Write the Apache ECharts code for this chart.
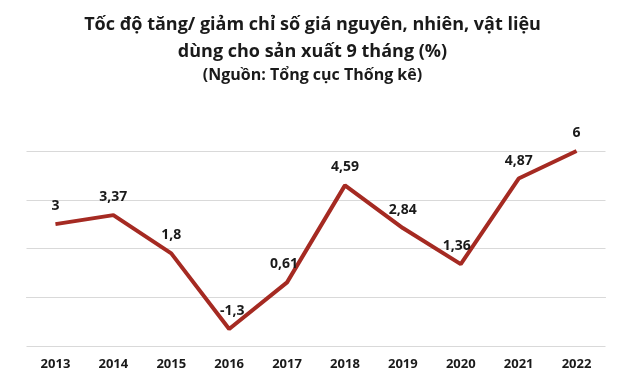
<!DOCTYPE html>
<html><head><meta charset="utf-8">
<script src="https://cdn.jsdelivr.net/npm/echarts@6/dist/echarts.min.js"></script>
<style>html,body{margin:0;padding:0;background:#fff}#c{width:625px;height:386px}</style>
</head><body><div id="c"></div>
<script>
const titleLines = ["Tốc độ tăng/ giảm chỉ số giá nguyên, nhiên, vật liệu", "dùng cho sản xuất 9 tháng (%)"];
const subtitle = "(Nguồn: Tổng cục Thống kê)";
const years = ["2013","2014","2015","2016","2017","2018","2019","2020","2021","2022"];
const values = [3, 3.37, 1.8, -1.3, 0.61, 4.59, 2.84, 1.36, 4.87, 6];
const labelOffsets = [[0,0],[0,0],[0,0],[3,0],[-3,0],[0,0],[0,0],[-4,0],[0,0],[0,0]];

const chart = echarts.init(document.getElementById('c'), null, {renderer:'canvas'});
const FONT = '"Open Sans", Lato, sans-serif';
chart.setOption({
  animation:false,
  backgroundColor:'#fff',
  title:[
    {text: titleLines.join('\n'), left:'center', top:6,
     textStyle:{fontFamily:FONT, fontWeight:'bold', fontSize:18, color:'#1a1a1a', lineHeight:27}},
    {text: subtitle, left:'center', top:62,
     textStyle:{fontFamily:FONT, fontWeight:'bold', fontSize:16, color:'#1a1a1a'}}
  ],
  grid:{left:26.5, right:19.5, top:151, bottom:40},
  xAxis:{type:'category', data:years, boundaryGap:true,
    axisLine:{show:true, lineStyle:{color:'#d9d9d9', width:1}},
    axisTick:{show:false},
    axisLabel:{fontFamily:FONT, fontWeight:'bold', fontSize:13, color:'#1a1a1a', margin:12}},
  yAxis:{type:'value', min:-2, max:6, interval:2,
    axisLabel:{show:false}, axisLine:{show:false}, axisTick:{show:false},
    splitLine:{lineStyle:{color:'#d9d9d9', width:1}}},
  series:[{type:'line', data:values, symbol:'circle', symbolSize:0, showSymbol:true,
    itemStyle:{color:'#A52A22'},
    lineStyle:{color:'#A52A22', width:4},
    label:{show:true, position:'top', distance:11,
      fontFamily:FONT, fontWeight:'bold', fontSize:14, color:'#1a1a1a',
      formatter:p=>String(p.value).replace('.', ',')},
    labelLayout:(p)=>({dx:labelOffsets[p.dataIndex][0], dy:labelOffsets[p.dataIndex][1]})
  }]
});
</script></body></html>
